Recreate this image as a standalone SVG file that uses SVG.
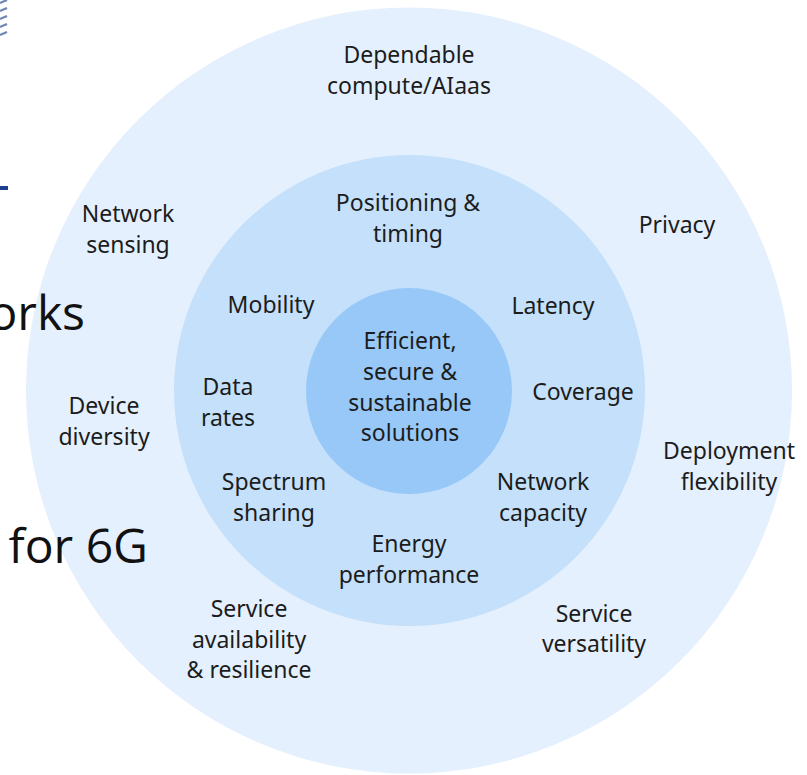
<svg xmlns="http://www.w3.org/2000/svg" width="807" height="775" viewBox="0 0 807 775">
<style>
.l{font-family:"Noto Sans","Open Sans","DejaVu Sans",sans-serif;font-size:23px;fill:#1c1c1c;text-anchor:middle}
.bg{font-family:"Open Sans","Noto Sans",sans-serif;font-size:48px;fill:#111}
</style>
<rect width="807" height="775" fill="#ffffff"/>
<g id="outer-ring"><circle cx="409" cy="390.5" r="383" fill="#e4f0fd"/></g>
<g id="middle-ring"><circle cx="409.5" cy="390.5" r="235.5" fill="#c4e0fa"/></g>
<g id="background-fragments">
<g stroke="#6f86b8" stroke-width="2.2">
<line x1="0" y1="3" x2="7" y2="0"/>
<line x1="0" y1="11" x2="7" y2="8"/>
<line x1="0" y1="19" x2="7" y2="16"/>
<line x1="0" y1="27" x2="7" y2="24"/>
<line x1="0" y1="35" x2="7" y2="32"/>
</g>
<rect x="0" y="186" width="8" height="4" fill="#1d3f8f"/>
<text class="bg" x="85" y="330" text-anchor="end">orks</text>
<text class="bg" x="148" y="563" text-anchor="end">for 6G</text>
</g>
<g id="core"><circle cx="409" cy="391" r="103" fill="#97c8f7"/>
<text class="l"><tspan x="410" y="349">Efficient,</tspan><tspan x="410" y="380">secure &amp;</tspan><tspan x="410" y="411">sustainable</tspan><tspan x="410" y="441">solutions</tspan></text></g>
<g id="dependable"><text class="l"><tspan x="409" y="63">Dependable</tspan><tspan x="409" y="94">compute/AIaas</tspan></text></g>
<g id="network-sensing"><text class="l"><tspan x="128" y="222">Network</tspan><tspan x="128" y="253">sensing</tspan></text></g>
<g id="privacy"><text class="l" x="677" y="233">Privacy</text></g>
<g id="device-diversity"><text class="l"><tspan x="104" y="414">Device</tspan><tspan x="104" y="445">diversity</tspan></text></g>
<g id="deployment-flexibility"><text class="l"><tspan x="729" y="459">Deployment</tspan><tspan x="729" y="490">flexibility</tspan></text></g>
<g id="service-availability"><text class="l"><tspan x="249" y="617">Service</tspan><tspan x="249" y="648">availability</tspan><tspan x="249" y="678">&amp; resilience</tspan></text></g>
<g id="service-versatility"><text class="l"><tspan x="594" y="622">Service</tspan><tspan x="594" y="652">versatility</tspan></text></g>
<g id="positioning"><text class="l"><tspan x="408" y="211">Positioning &amp;</tspan><tspan x="408" y="242">timing</tspan></text></g>
<g id="mobility"><text class="l" x="271" y="313">Mobility</text></g>
<g id="latency"><text class="l" x="553" y="314">Latency</text></g>
<g id="data-rates"><text class="l"><tspan x="228" y="395">Data</tspan><tspan x="228" y="426">rates</tspan></text></g>
<g id="coverage"><text class="l" x="583" y="400">Coverage</text></g>
<g id="spectrum-sharing"><text class="l"><tspan x="274" y="490">Spectrum</tspan><tspan x="274" y="521">sharing</tspan></text></g>
<g id="network-capacity"><text class="l"><tspan x="543" y="490">Network</tspan><tspan x="543" y="521">capacity</tspan></text></g>
<g id="energy"><text class="l"><tspan x="409" y="552">Energy</tspan><tspan x="409" y="583">performance</tspan></text></g>
<g id="connectors"></g>
</svg>
